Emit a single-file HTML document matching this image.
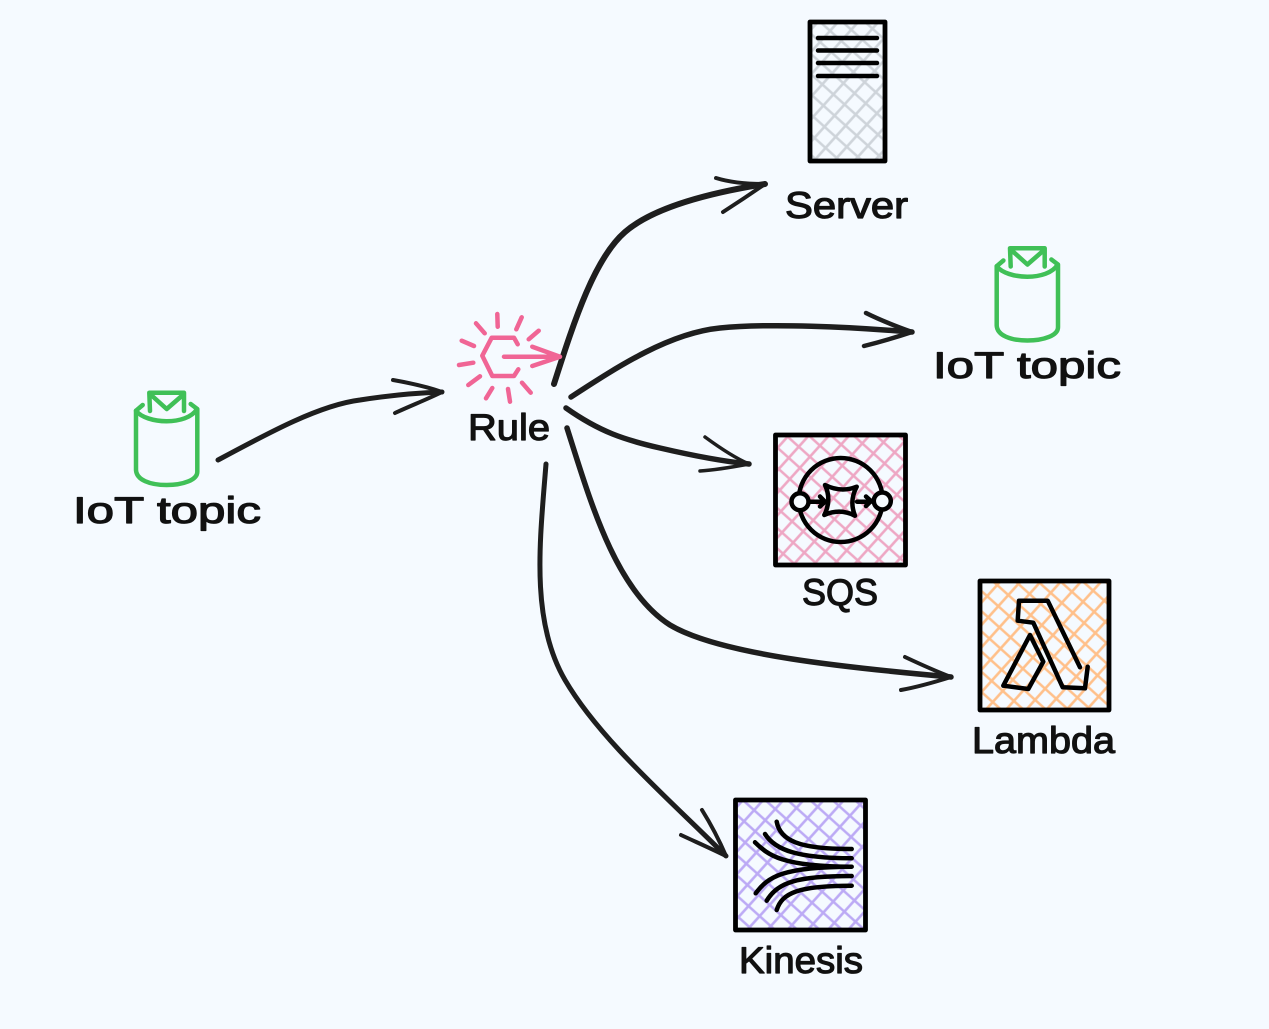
<!DOCTYPE html>
<html><head><meta charset="utf-8"><style>
html,body{margin:0;padding:0;background:#f5faff;width:1269px;height:1029px;overflow:hidden}
svg{display:block}
text{font-family:"Liberation Sans","DejaVu Sans",sans-serif;font-size:37px;fill:#111;stroke:#111;stroke-width:1.2px;stroke-linejoin:round}
.k{fill:none;stroke:#1e1e1e;stroke-linecap:round;stroke-linejoin:round}
.b{fill:none;stroke:#000;stroke-linecap:round;stroke-linejoin:round;stroke-width:4.5}
.g{fill:none;stroke:#40c057;stroke-width:4.500;stroke-linecap:round;stroke-linejoin:round}
.p{fill:none;stroke:#f06595;stroke-width:4.500;stroke-linecap:round;stroke-linejoin:round}
.r{stroke:#000;stroke-width:4.800;stroke-linejoin:round}
</style></head><body>
<svg width="1269" height="1029" viewBox="0 0 1269 1029" xmlns="http://www.w3.org/2000/svg">
<defs>
<pattern id="hg" width="15" height="15" patternUnits="userSpaceOnUse" patternTransform="rotate(42)"><path d="M0 7.500H15M7.500 0V15" stroke="#ced4da" stroke-width="2.600" fill="none"/></pattern>
<pattern id="hp" width="15" height="15" patternUnits="userSpaceOnUse" patternTransform="rotate(42)"><path d="M0 7.500H15M7.500 0V15" stroke="#eea7c4" stroke-width="2.600" fill="none"/></pattern>
<pattern id="ho" width="15" height="15" patternUnits="userSpaceOnUse" patternTransform="rotate(42)"><path d="M0 7.500H15M7.500 0V15" stroke="#ffc08a" stroke-width="2.600" fill="none"/></pattern>
<pattern id="hv" width="15" height="15" patternUnits="userSpaceOnUse" patternTransform="rotate(42)"><path d="M0 7.500H15M7.500 0V15" stroke="#bcaaf5" stroke-width="2.600" fill="none"/></pattern>
<g id="iot">
<path class="g" d="M142.700 405 136 410.700V470C136.500 480 150 485 166.700 485C183 485 197.300 480 197.300 471.700V409L190.700 404"/>
<path class="g" d="M136 410.700C146 424 187 426 197 409"/>
<path class="g" d="M150 411 149.300 392.700H184V411M150 394 166.700 409 184 394"/>
</g>
</defs>

<!-- Arrows -->
<g class="k">
<path stroke-width="5" d="M218 460C270 432 320 405 360 400C385 396 415 393 442 392"/>
<path stroke-width="4" d="M393 380C410 383 428 387 442 392C428 399 410 406 395 413"/>
<path stroke-width="6" d="M554 384C575 318 595 258 625 232C655 206 715 192 765 184"/>
<path stroke-width="4" d="M716 178C732 183 750 184 765 184C752 193 737 203 723 212"/>
<path stroke-width="5.500" d="M571 397C620 365 670 333 720 328C770 323 850 327 912 332"/>
<path stroke-width="4.500" d="M866 313C882 321 898 327 912 332C897 337 880 342 864 346"/>
<path stroke-width="5.500" d="M566 408C600 432 625 440 660 448C690 455 720 461 749 464"/>
<path stroke-width="3.500" d="M705 437C720 448 735 458 749 464C733 467 716 470 700 471"/>
<path stroke-width="5.500" d="M567 428C590 500 615 590 670 625C720 655 850 668 951 677"/>
<path stroke-width="4" d="M905 657C922 665 938 672 951 677C935 682 918 687 901 690"/>
<path stroke-width="5" d="M546 464C540 540 530 620 565 680C600 740 670 800 726 856"/>
<path stroke-width="4" d="M702 810C712 826 720 842 726 856C712 849 696 842 681 835"/>
</g>

<!-- Left IoT -->
<use href="#iot"/>
<text x="73" y="523" textLength="188" lengthAdjust="spacingAndGlyphs">IoT topic</text>

<!-- Rule -->
<g class="p">
<path d="M517.700 344.300 514 337.700H491.700L482.300 355.700 492.300 376H514L518.300 369.300"/>
<path d="M504 356.700H558M532.300 346.700 560 356.700 532.300 366"/>
<path d="M497.300 314 497.700 326.700M521.700 317.300 516.300 329.300M538.700 330.700 528.700 339.300M476 323.300 484.700 333.300M461.700 340.700 474 346M459 365 473.300 362.700M468.300 385 480 376.300M486 398.300 492.300 388M508 389 510 401.700M522 382.700 530.700 392.700"/>
</g>
<text x="468" y="440" textLength="82" lengthAdjust="spacingAndGlyphs">Rule</text>

<!-- Server -->
<rect class="r" x="810" y="22" width="75" height="139" fill="url(#hg)"/>
<path class="b" d="M818 38H877M818 50.500H877M818 63H877M818 76H877"/>
<text x="785" y="218" textLength="123" lengthAdjust="spacingAndGlyphs">Server</text>

<!-- Right IoT -->
<use href="#iot" transform="translate(860.700 -144.500)"/>
<text x="933" y="378" textLength="188" lengthAdjust="spacingAndGlyphs">IoT topic</text>

<!-- SQS -->
<rect class="r" x="775.500" y="435" width="130" height="130" fill="url(#hp)"/>
<circle class="b" cx="840.700" cy="500" r="42"/>
<circle cx="800" cy="501.700" r="8.500" fill="#f5faff" stroke="#000" stroke-width="4.500"/>
<circle cx="882.300" cy="501" r="8.500" fill="#f5faff" stroke="#000" stroke-width="4.500"/>
<path class="b" d="M810 501.700H825M820 496.500 825 501.700 820 506.500M857 501.700H871M866 496.500 871 501 866 506M825 485Q841 493 856.700 486.700Q849 501 855 515.700Q840 508 824.300 515Q832 500 825 485Z"/>
<text x="802" y="605" textLength="76" lengthAdjust="spacingAndGlyphs">SQS</text>

<!-- Lambda -->
<rect class="r" x="980" y="581" width="129" height="129" fill="url(#ho)"/>
<path class="b" d="M1080 667.300 1047.700 600.700H1019L1017.700 620.700 1033.300 622.700 1062.700 687.300 1085 688.300 1087.700 666.700"/>
<path class="b" d="M1030 635 1003.300 685.700 1028.300 689 1043.300 661.700Z"/>
<text x="972" y="753" textLength="143" lengthAdjust="spacingAndGlyphs">Lambda</text>

<!-- Kinesis -->
<rect class="r" x="735.500" y="800" width="130" height="130" fill="url(#hv)"/>
<path class="b" d="M776.700 821.700C780 840 798 849.300 851.700 849M765 834C775 850 798 858.300 851.700 858.300M755 842.300C768 855 782 866.700 851.700 866.700M755.700 893.300C768 877 782 866.700 851.700 866.700M766.700 900.700C778 882 798 876 851.700 876M776.700 910C782 893 798 885.700 851.700 885.700"/>
<text x="739" y="973" textLength="124" lengthAdjust="spacingAndGlyphs">Kinesis</text>
</svg>
</body></html>
